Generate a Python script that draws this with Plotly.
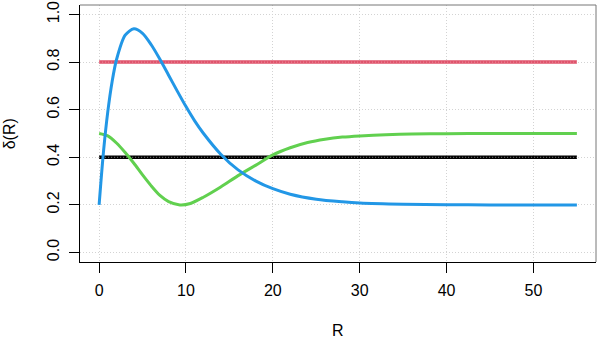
import plotly.graph_objects as go

# Data
# ===================================================
r_flat = [0, 55]
red_vals = [0.8, 0.8]
black_vals = [0.4, 0.4]

r_blue = [0, 0.5, 1, 1.5, 2, 3, 4, 5, 6, 7, 8, 9, 10, 11, 12, 14, 16, 18,
          20, 22, 25, 28, 30, 35, 40, 45, 50, 55]
blue_vals = [0.200, 0.422, 0.592, 0.719, 0.810, 0.913, 0.940, 0.921, 0.873,
             0.812, 0.745, 0.678, 0.613, 0.553, 0.501, 0.413, 0.347, 0.301,
             0.268, 0.245, 0.224, 0.213, 0.208, 0.203, 0.201, 0.200, 0.200, 0.200]

r_green = [0, 1, 2, 3, 4, 5, 6, 7, 8, 9.3, 10.5, 12, 14, 16, 18, 20, 22,
           24, 26, 28, 30, 33, 36, 40, 45, 50, 55]
green_vals = [0.500, 0.490, 0.460, 0.420, 0.375, 0.326, 0.280, 0.240, 0.214,
              0.200, 0.206, 0.232, 0.275, 0.323, 0.366, 0.410, 0.440, 0.462,
              0.476, 0.485, 0.490, 0.495, 0.498, 0.499, 0.500, 0.500, 0.500]

x_ticks = [0, 10, 20, 30, 40, 50]
y_ticks = [0.0, 0.2, 0.4, 0.6, 0.8, 1.0]
y_ticktext = ["0.0", "0.2", "0.4", "0.6", "0.8", "1.0"]

# Figure
# ===================================================
fig = go.Figure()

# flat lines, with a faint dotted texture on top like the reference
fig.add_trace(go.Scatter(x=r_flat, y=red_vals, mode="lines",
                         line=dict(color="#DF536B", width=3.5), showlegend=False))
fig.add_trace(go.Scatter(x=r_flat, y=red_vals, mode="lines",
                         line=dict(color="#EE93A3", width=1, dash="1px,2px"),
                         showlegend=False))
fig.add_trace(go.Scatter(x=r_flat, y=black_vals, mode="lines",
                         line=dict(color="black", width=3.5), showlegend=False))
fig.add_trace(go.Scatter(x=r_flat, y=black_vals, mode="lines",
                         line=dict(color="#808080", width=1, dash="1px,2px"),
                         showlegend=False))

fig.add_trace(go.Scatter(x=r_green, y=green_vals, mode="lines",
                         line=dict(color="#61D04F", width=3, shape="spline", smoothing=0.8),
                         showlegend=False))
fig.add_trace(go.Scatter(x=r_blue, y=blue_vals, mode="lines",
                         line=dict(color="#2297E6", width=3, shape="spline", smoothing=0.8),
                         showlegend=False))

font = dict(family="Liberation Sans, Arial, sans-serif", size=16, color="black")

fig.update_layout(
    width=598, height=338,
    margin=dict(l=80, r=2, t=1, b=76),
    plot_bgcolor="white", paper_bgcolor="white",
    font=font,
    xaxis=dict(
        range=[-2.2, 57.2], tickvals=x_ticks,
        ticks="outside", ticklen=10, tickcolor="black", tickwidth=1,
        showline=True, linecolor="black", linewidth=1,
        showgrid=True, gridcolor="#D3D3D3", griddash="1px,2px", gridwidth=1,
        zeroline=False, ticklabelstandoff=4,
    ),
    yaxis=dict(
        range=[-0.04, 1.04], tickvals=y_ticks, ticktext=y_ticktext,
        tickangle=-90, ticklabeloverflow="allow",
        ticks="outside", ticklen=10, tickcolor="black", tickwidth=1,
        showline=True, linecolor="black", linewidth=1,
        showgrid=True, gridcolor="#D3D3D3", griddash="1px,2px", gridwidth=1,
        zeroline=False, ticklabelstandoff=4,
    ),
    annotations=[
        dict(text="R", xref="paper", yref="paper", x=0.5, y=-0.265,
             xanchor="center", yanchor="middle", showarrow=False, font=font),
        dict(text="δ(R)", xref="paper", yref="paper", x=-0.136, y=0.5,
             xanchor="center", yanchor="middle", textangle=-90,
             showarrow=False, font=font),
    ],
    shapes=[
        dict(type="line", xref="paper", yref="paper", x0=0, x1=1, y0=1, y1=1,
             line=dict(color="#777777", width=1)),
        dict(type="line", xref="paper", yref="paper", x0=1, x1=1, y0=0, y1=1,
             line=dict(color="#777777", width=1)),
    ],
)

fig.write_html("out.html", config={"displayModeBar": False},
               post_script="document.body.style.margin='0px';")
